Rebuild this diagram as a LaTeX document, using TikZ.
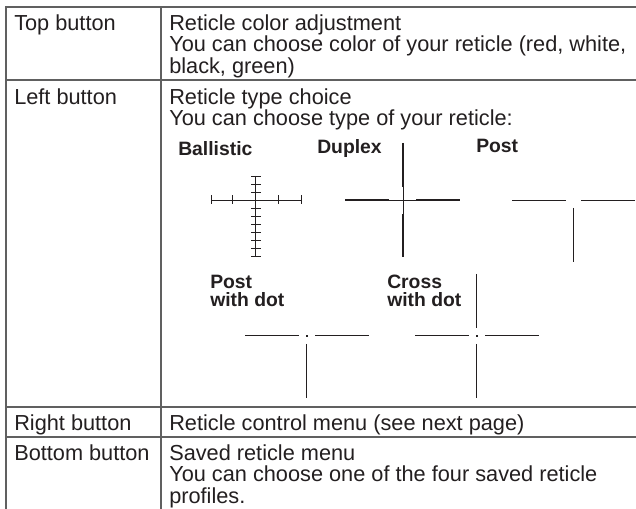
\documentclass[tikz,border=0pt]{standalone}
\usepackage{fontspec}
\setmainfont{Liberation Sans}
\definecolor{ink}{HTML}{231F20}
\definecolor{rule}{HTML}{606060}
\newcommand\tightlines{\lineskiplimit=-100pt\relax}
\tikzset{
  x=0.75pt,y=-0.75pt,
  grid/.style={draw=rule,line width=1.1pt},
  cell/.style={anchor=north west,inner sep=0pt,align=left,text=ink,font=\tightlines\fontsize{16.3pt}{16.2pt}\selectfont},
  kind/.style={anchor=north west,inner sep=0pt,align=left,text=ink,font=\tightlines\fontsize{14.5pt}{13.3pt}\selectfont\bfseries},
  thin reticle/.style={draw=ink,line width=0.75pt},
  thick reticle/.style={draw=ink,line width=1.35pt},
  hair/.style={draw=ink,line width=0.6pt},
}
\begin{document}
\begin{tikzpicture}
\useasboundingbox (0,0) rectangle (636,509);
\fill[white] (0,0) rectangle (636,509);
% table
\draw[grid] (6,509) -- (6,7) -- (636,7);
\draw[grid] (161,7) -- (161,509);
\foreach \y in {80,407,437} \draw[grid] (6,\y) -- (636,\y);
% cells
\node[cell] (c1) at (14,14) {Top button};
\node[cell] (c2) at (14,88) {Left button};
\node[cell] (c3) at (14,414) {Right button};
\node[cell] (c4) at (14,444) {Bottom button};
\node[cell] (d1) at (169,14) {Reticle color adjustment\\You can choose color of your reticle (red, white,\\black, green)};
\node[cell] (d2) at (169,88) {Reticle type choice\\You can choose type of your reticle:};
\node[cell] (d3) at (169,414) {Reticle control menu (see next page)};
\node[cell] (d4) at (169,444) {Saved reticle menu\\You can choose one of the four saved reticle\\profiles.};
% labels
\node[kind] (k1) at (178,141) {Ballistic};
\node[kind] (k2) at (317,139) {Duplex};
\node[kind] (k3) at (476,139) {Post};
\node[kind] (k4) at (210,275) {Post\\with dot};
\node[kind] (k5) at (387,275) {Cross\\with dot};
% ballistic
\draw[hair] (211,200) -- (301,200);
\draw[hair] (255.5,176) -- (255.5,256);
\foreach \x in {211,232.5,278.5,301} \draw[hair] (\x,195.5) -- (\x,204.5);
\foreach \y in {176,184,192,208,216,224,232,240,248,256} \draw[hair] (251,\y) -- (260.5,\y);
% duplex
\draw[thick reticle] (345,200) -- (389,200) (416,200) -- (460,200);
\draw[thick reticle] (403,143) -- (403,187) (403,214) -- (403,257);
\draw[hair] (389,200) -- (416,200) (403,187) -- (403,214);
% post
\draw[thin reticle] (512,200.5) -- (566,200.5) (581,200.5) -- (635,200.5);
\draw[thin reticle] (573.5,208) -- (573.5,262);
% post with dot
\draw[thin reticle] (245,335.5) -- (299,335.5) (315,335.5) -- (369,335.5);
\draw[thin reticle] (306.5,344) -- (306.5,398);
\fill[ink] (305.5,334.7) rectangle (307.5,336.7);
% cross with dot
\draw[thin reticle] (415,335.5) -- (469,335.5) (485,335.5) -- (539,335.5);
\draw[thin reticle] (476.5,274) -- (476.5,328) (476.5,344) -- (476.5,398);
\fill[ink] (475.5,334.7) rectangle (477.5,336.7);
\end{tikzpicture}
\end{document}
